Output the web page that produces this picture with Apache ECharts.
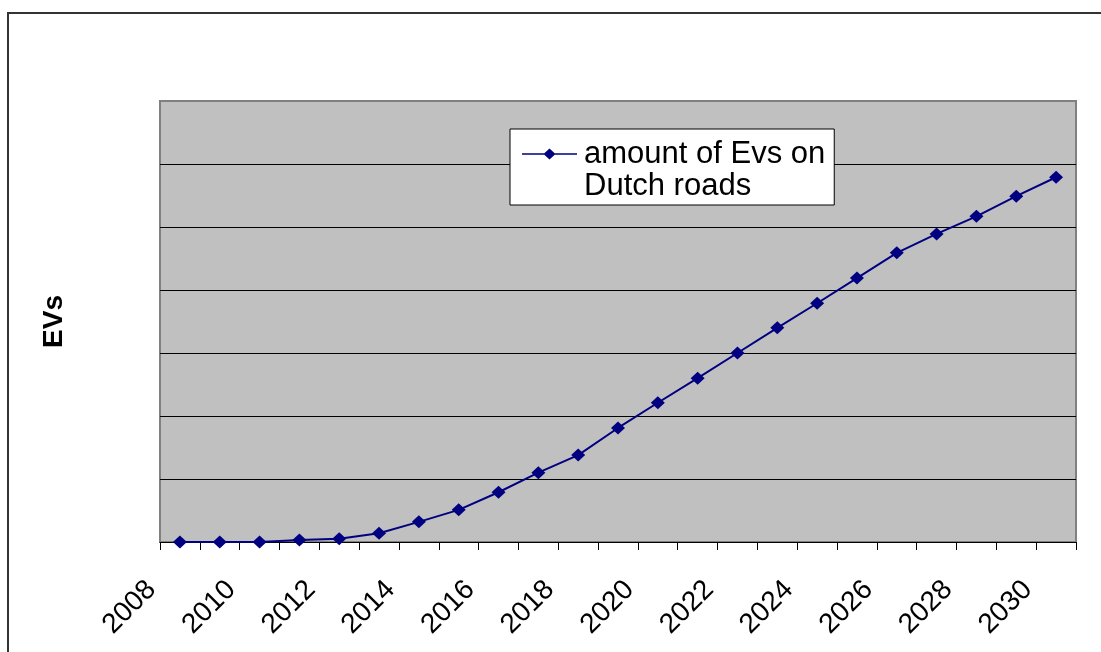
<!DOCTYPE html>
<html>
<head>
<meta charset="utf-8">
<title>EVs on Dutch roads</title>
<script src="https://cdn.jsdelivr.net/npm/echarts@6/dist/echarts.min.js"></script>
<style>
    html, body {
        margin: 0;
        padding: 0;
        background: #fff;
    }
    #chart {
        width: 1101px;
        height: 652px;
    }
</style>
</head>
<body>
<div id="chart"></div>
<script>
// categories
const years = ['2008', '2009', '2010', '2011', '2012', '2013', '2014', '2015', '2016', '2017', '2018', '2019',
    '2020', '2021', '2022', '2023', '2024', '2025', '2026', '2027', '2028', '2029', '2030']
// values (y axis has no labels, 7 gridline steps)
const evs = [0, 0, 0, 0.03, 0.05, 0.14, 0.32, 0.51, 0.79, 1.10, 1.38, 1.81,
    2.21, 2.60, 3.00, 3.40, 3.79, 4.19, 4.59, 4.89, 5.17, 5.49, 5.79]
const seriesName = 'amount of Evs on\nDutch roads'
const yAxisName = 'EVs'
const yMin = 0
const yMax = 7
const yStep = 1

const font = '"Liberation Sans", Arial, sans-serif'
const navy = '#000080'

// legend icon: line + diamond sitting on the first text line (57 x 64 box)
const legendIcon = 'path://M0,15.25L55,15.25L55,16.75L0,16.75Z' +
    'M21.5,16L27.5,10.5L33.5,16L27.5,21.5Z' +
    'M0,0L0.01,0L0.01,0.01Z' +
    'M56.99,64L57,64L57,63.99Z'

// split line colours: black inside, grey at the top edge
const splitColors = []
for (let v = yMin; v <= yMax; v += yStep) {
    splitColors.push(v === yMax ? '#808080' : '#000000')
}

const chart = echarts.init(document.getElementById('chart'), null, { renderer: 'canvas' })
const option = {
    animation: false,
    backgroundColor: '#ffffff',
    textStyle: { fontFamily: font },
    graphic: [
        {
            // outer chart frame
            type: 'rect',
            shape: { x: 8, y: 13, width: 1200, height: 800 },
            style: { fill: 'none', stroke: '#333333', lineWidth: 2 },
            silent: true
        }
    ],
    grid: {
        left: 160,
        top: 101,
        right: 25,
        bottom: 110,
        show: true,
        backgroundColor: '#C0C0C0',
        borderColor: '#808080',
        borderWidth: 2,
        containLabel: false,
        outerBoundsMode: 'none'
    },
    legend: {
        left: 510,
        top: 129,
        orient: 'vertical',
        padding: [9, 9, 3, 12],
        backgroundColor: '#ffffff',
        borderColor: '#000000',
        borderWidth: 1,
        borderRadius: 0,
        itemWidth: 57,
        itemHeight: 64,
        icon: legendIcon,
        itemStyle: { color: navy, borderWidth: 0 },
        textStyle: {
            fontFamily: font,
            fontSize: 31,
            lineHeight: 32,
            color: '#000000'
        },
        data: [seriesName]
    },
    xAxis: {
        type: 'category',
        data: years,
        boundaryGap: true,
        axisLine: { show: true, lineStyle: { color: '#000000', width: 1 } },
        axisTick: {
            show: true,
            interval: 0,
            alignWithLabel: false,
            inside: false,
            length: 8,
            lineStyle: { color: '#000000', width: 1 }
        },
        axisLabel: {
            interval: 1,
            rotate: 45,
            margin: 15,
            padding: [0, 40, 0, 0],
            fontFamily: font,
            fontSize: 28,
            color: '#000000'
        },
        splitLine: { show: false }
    },
    yAxis: {
        type: 'value',
        min: yMin,
        max: yMax,
        interval: yStep,
        name: yAxisName,
        nameLocation: 'middle',
        nameRotate: 90,
        nameGap: 92,
        nameTextStyle: {
            fontFamily: font,
            fontSize: 28,
            fontWeight: 'bold',
            color: '#000000'
        },
        axisLine: { show: false },
        axisTick: { show: false },
        axisLabel: { show: false },
        splitLine: {
            show: true,
            lineStyle: { color: splitColors, width: 1 }
        }
    },
    series: [
        {
            name: seriesName,
            type: 'line',
            data: evs,
            symbol: 'diamond',
            symbolSize: [14, 13],
            showSymbol: true,
            showAllSymbol: true,
            smooth: false,
            lineStyle: { color: navy, width: 2 },
            itemStyle: { color: navy, borderWidth: 0 }
        }
    ]
}
chart.setOption(option)
</script>
</body>
</html>
